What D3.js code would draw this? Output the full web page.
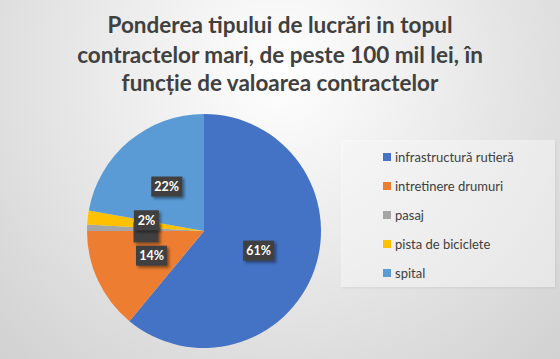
<!DOCTYPE html>
<html>
<head>
<meta charset="utf-8">
<script src="https://cdn.jsdelivr.net/npm/d3@7"></script>
<style>
  html, body { margin: 0; padding: 0; background: #fff; }
  svg { display: block; }
</style>
</head>
<body>
<script>
const categories = ["infrastructură rutieră", "intretinere drumuri", "pasaj", "pista de biciclete", "spital"];
const values = [61.0, 14.0, 0.9, 1.9, 22.2];
const labels = ["61%", "14%", "1%", "2%", "22%"];
const colors = ["#4472C4", "#ED7D31", "#A5A5A5", "#FFC000", "#5B9BD5"];
const titleLines = ["Ponderea tipului de lucrări in topul", "contractelor mari, de peste 100 mil lei, în", "funcție de valoarea contractelor"];

const W = 560, H = 359;
const svg = d3.select("body").append("svg").attr("width", W).attr("height", H);
const defs = svg.append("defs");

const bg = defs.append("radialGradient").attr("id", "bg")
  .attr("gradientUnits", "userSpaceOnUse")
  .attr("cx", 280).attr("cy", 70).attr("r", 420);
bg.append("stop").attr("offset", "0%").attr("stop-color", "#ffffff");
bg.append("stop").attr("offset", "35%").attr("stop-color", "#eeeeee");
bg.append("stop").attr("offset", "100%").attr("stop-color", "#cfcfcf");

const sh = defs.append("filter").attr("id", "sh").attr("x", "-30%").attr("y", "-30%").attr("width", "170%").attr("height", "170%");
sh.append("feDropShadow").attr("dx", 2).attr("dy", 2).attr("stdDeviation", 1.5).attr("flood-color", "#000").attr("flood-opacity", 0.45);

const lsh = defs.append("filter").attr("id", "lsh").attr("x", "-10%").attr("y", "-10%").attr("width", "120%").attr("height", "120%");
lsh.append("feDropShadow").attr("dx", 1).attr("dy", 1).attr("stdDeviation", 1).attr("flood-color", "#000").attr("flood-opacity", 0.15);

svg.append("rect").attr("width", W).attr("height", H).attr("fill", "url(#bg)");

// Title
const titleWidths = [345, 406, 317];
const titleY = [33, 63, 91];
titleLines.forEach((t, i) => {
  const tx = svg.append("text")
    .attr("x", 280).attr("y", titleY[i])
    .attr("text-anchor", "middle")
    .attr("font-family", "Lato, 'Open Sans', sans-serif")
    .attr("font-weight", "bold")
    .attr("font-size", 20)
    .attr("fill", "#404040")
    .text(t);
  const w = tx.node().getComputedTextLength();
  tx.attr("font-size", 20 * titleWidths[i] / w);
});

// Pie
const cx = 204, cy = 231, R = 117;
const pie = d3.pie().sort(null).value(d => d)(values);
const arc = d3.arc().innerRadius(0).outerRadius(R);
const g = svg.append("g").attr("transform", `translate(${cx},${cy})`);
g.selectAll("path.slice").data(pie).join("path")
  .attr("class", "slice")
  .attr("d", arc)
  .attr("fill", (d, i) => colors[i]);

// Data labels (the pasaj label sits hidden behind the pista label, as in the reference)
const lg = g.append("g");
const order = [0, 1, 2, 4, 3];
order.forEach(i => {
  const d = pie[i];
  const a = (d.startAngle + d.endAngle) / 2;
  const r = 58;
  let x = Math.sin(a) * r, y = -Math.cos(a) * r;
  if (i === 3) { y -= 4; }
  if (i === 2) { y += 3; }
  const grp = lg.append("g").attr("transform", `translate(${x},${y})`);
  const bw = labels[i].length === 2 ? 25 : 31;
  const bh = 20;
  grp.append("rect")
    .attr("x", -bw / 2).attr("y", -bh / 2).attr("width", bw).attr("height", bh)
    .attr("fill", "#404040").attr("filter", "url(#sh)");
  if (i !== 2) {
    grp.append("text")
      .attr("text-anchor", "middle").attr("dy", "0.36em")
      .attr("font-family", "Lato, 'Open Sans', sans-serif")
      .attr("font-weight", "bold").attr("font-size", 12.5)
      .attr("fill", "#ffffff")
      .text(labels[i]);
  }
});

// Legend
svg.append("rect")
  .attr("x", 341).attr("y", 140).attr("width", 214).attr("height", 147)
  .attr("fill", "#ffffff").attr("fill-opacity", 0.45)
  .attr("filter", "url(#lsh)");
const ly = d3.scalePoint().domain(categories).range([157, 273]);
const leg = svg.append("g");
categories.forEach((c, i) => {
  leg.append("rect")
    .attr("x", 383).attr("y", ly(c) - 4).attr("width", 8).attr("height", 8)
    .attr("fill", colors[i]);
  leg.append("text")
    .attr("x", 395).attr("y", ly(c)).attr("dy", "0.35em")
    .attr("font-family", "Lato, 'Open Sans', sans-serif")
    .attr("font-size", 13)
    .attr("fill", "#404040")
    .text(c);
});
</script>
</body>
</html>
